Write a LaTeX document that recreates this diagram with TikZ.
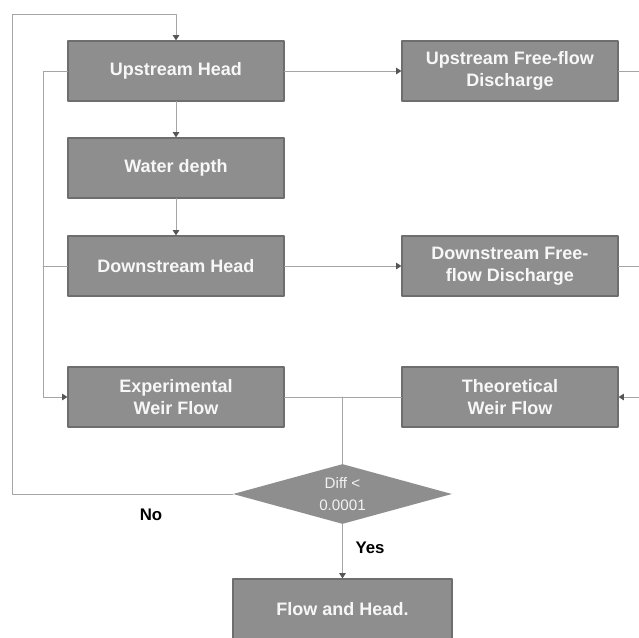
\documentclass[tikz,border=0pt]{standalone}
\usepackage{fontspec}
\setmainfont{Liberation Sans}
\usetikzlibrary{arrows.meta,shapes.geometric}
\definecolor{boxgray}{RGB}{142,142,142}
\definecolor{edgegray}{RGB}{110,110,110}
\definecolor{linegray}{RGB}{165,165,165}
\definecolor{tipgray}{RGB}{85,85,85}

\begin{document}
\begin{tikzpicture}[line cap=round,line join=round,>={Triangle[length=2.6pt,width=3.2pt,color=tipgray]},x=0.5pt,y=-0.5pt,
		stepbox/.style={rectangle,draw=edgegray,line width=0.6pt,fill=boxgray,text=white!94!gray,
			font=\fontsize{9}{10.8}\selectfont\bfseries,align=center,
			minimum width=108pt,minimum height=30pt,inner sep=0pt},
		testbox/.style={diamond,fill=boxgray,text=white!90!gray,shape aspect=3.65,
			font=\fontsize{7.6}{11}\selectfont,align=center,
			minimum width=109.5pt,minimum height=30pt,inner sep=0pt},
		link/.style={draw=linegray,line width=0.5pt},
		tip/.style={link,->},
		answer/.style={font=\fontsize{8.4}{10}\selectfont\bfseries,text=black}]
		\useasboundingbox (0,0) rectangle (639,638);
		\clip (0,0) rectangle (639,638);
		% boxes
		\node[stepbox] (uph) at (176,71) {Upstream Head};
		\node[stepbox] (wdp) at (176,168) {Water depth};
		\node[stepbox] (dnh) at (176,266) {Downstream Head};
		\node[stepbox] (upf) at (510,71) {Upstream Free-flow\\Discharge};
		\node[stepbox] (dnf) at (510,266) {Downstream Free-\\flow Discharge};
		\node[stepbox] (exp) at (176,397) {Experimental\\Weir Flow};
		\node[stepbox] (the) at (510,397) {Theoretical\\Weir Flow};
		\node[testbox] (dec) at (342.5,494) {Diff <\\0.0001};
		\node[stepbox,minimum width=109.5pt] (res) at (342.5,609) {Flow and Head.};
		% helper points
		\coordinate (lbus) at (43,71);
		\coordinate (rbus) at (641,71);
		\coordinate (join) at (342.5,397);
		\coordinate (loop) at (12,14);
		% connectors
		\draw[tip] (uph) -- (wdp);
		\draw[tip] (wdp) -- (dnh);
		\draw[tip] (uph) -- (upf);
		\draw[tip] (dnh) -- (dnf);
		\draw[tip] (uph.west) -- (lbus) |- (exp.west);
		\draw[link] (dnh.west) -- (lbus |- dnh.west);
		\draw[tip] (upf.east) -- (rbus) |- (the.east);
		\draw[link] (dnf.east) -- (rbus |- dnf.east);
		\draw[link] (exp.east) -- (join);
		\draw[link] (the.west) -- (join);
		\draw[link] (join) -- (dec.north);
		\draw[tip] (dec.west) -| (loop) -| (uph.north);
		\draw[tip] (dec.south) -- (res.north);
		% labels
		\node[answer] (no) at (151,515) {No};
		\node[answer] (yes) at (370,548) {Yes};
\end{tikzpicture}
\end{document}
